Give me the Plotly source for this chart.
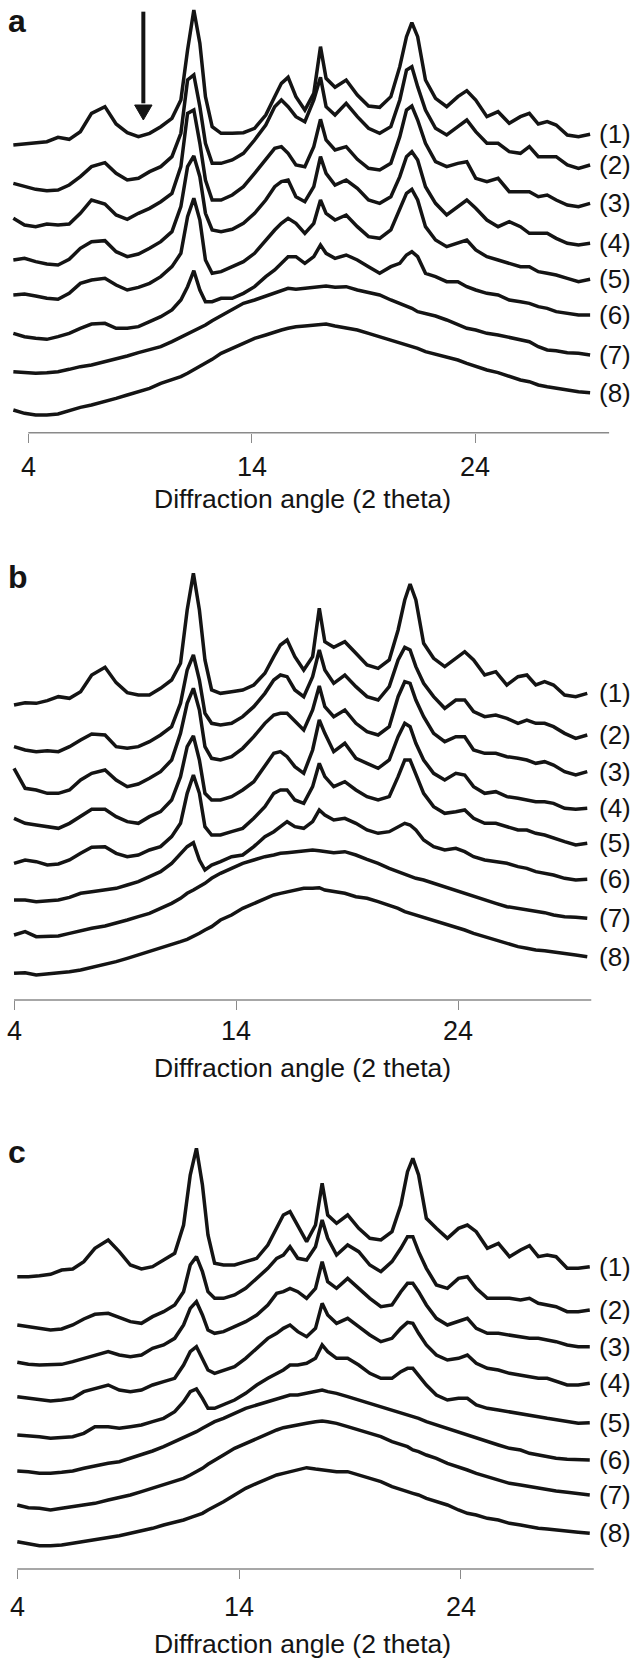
import plotly.graph_objects as go

# ---------------- data (2-theta in degrees, intensity in arbitrary stacked units) ----------------
X_A = [3.33, 3.83, 4.33, 4.83, 5.33, 5.83, 6.33, 6.83, 7.43, 7.93, 8.43, 8.93, 9.43, 9.93, 10.43, 10.83,
       11.13, 11.41, 11.68, 11.93, 12.23, 12.63, 13.13, 13.63, 14.13, 14.63, 15.03, 15.33, 15.63, 15.98,
       16.38, 16.78, 17.08, 17.33, 17.73, 18.23, 18.73, 19.23, 19.73, 20.23, 20.63, 20.93, 21.17, 21.43,
       21.78, 22.23, 22.73, 23.23, 23.63, 24.03, 24.53, 25.03, 25.53, 26.03, 26.43, 26.83, 27.23, 27.63,
       28.13, 28.63, 29.15]
X_BC = [4.0, 4.5, 5.0, 5.5, 6.0, 6.5, 7.0, 7.5, 8.1, 8.6, 9.1, 9.6, 10.1, 10.6, 11.1, 11.5, 11.8, 12.08,
        12.35, 12.6, 12.9, 13.3, 13.8, 14.3, 14.8, 15.3, 15.7, 16.0, 16.3, 16.65, 17.05, 17.45, 17.75, 18.0,
        18.4, 18.9, 19.4, 19.9, 20.4, 20.9, 21.3, 21.6, 21.84, 22.1, 22.45, 22.9, 23.4, 23.9, 24.3, 24.7,
        25.2, 25.7, 26.2, 26.7, 27.1, 27.5, 27.9, 28.3, 28.8, 29.3, 29.82]

A1 = [865, 868, 872, 875, 888, 882, 905, 960, 980, 928, 902, 890, 900, 920, 945, 1000, 1150, 1270, 1170, 1010,
      920, 900, 900, 902, 915, 955, 1010, 1050, 1068, 1010, 970, 1020, 1160, 1065, 1038, 1060, 1015, 982, 978, 1010,
      1100, 1190, 1232, 1190, 1060, 1005, 980, 1010, 1028, 1000, 950, 965, 930, 950, 960, 928, 935, 925, 895, 890, 897]
A2 = [750, 740, 732, 728, 730, 745, 770, 800, 812, 780, 760, 765, 785, 800, 830, 900, 1060, 1075, 980, 870,
      810, 810, 820, 840, 880, 925, 980, 1000, 980, 950, 935, 1000, 1068, 980, 955, 990, 950, 915, 900, 920,
      1000, 1090, 1100, 1040, 970, 915, 895, 920, 940, 905, 870, 870, 845, 840, 860, 830, 830, 830, 805, 795, 805]
A3 = [645, 625, 620, 628, 625, 628, 660, 700, 688, 655, 642, 660, 675, 695, 720, 800, 960, 970, 870, 760,
      700, 700, 715, 740, 780, 820, 855, 860, 840, 805, 800, 860, 942, 880, 850, 860, 822, 795, 790, 810,
      890, 970, 982, 940, 870, 815, 800, 810, 815, 765, 755, 765, 725, 725, 725, 710, 715, 700, 685, 680, 690]
A4 = [520, 525, 515, 508, 505, 522, 555, 575, 578, 545, 530, 538, 555, 575, 605, 680, 800, 832, 770, 660,
      610, 605, 612, 630, 660, 700, 740, 755, 760, 710, 695, 740, 830, 780, 745, 760, 735, 700, 690, 710,
      770, 830, 845, 820, 740, 690, 655, 680, 700, 675, 640, 620, 635, 620, 600, 600, 600, 585, 570, 565, 570]
A5 = [415, 418, 412, 405, 402, 420, 450, 460, 465, 445, 430, 438, 450, 470, 500, 540, 650, 705, 640, 520,
      480, 485, 500, 515, 540, 580, 610, 630, 645, 630, 600, 630, 700, 660, 640, 655, 620, 590, 585, 610,
      670, 720, 732, 700, 620, 580, 560, 570, 580, 550, 530, 520, 510, 500, 500, 485, 480, 475, 465, 455, 462]
A6 = [300, 290, 285, 282, 290, 300, 315, 328, 330, 315, 315, 320, 335, 350, 370, 400, 440, 488, 430, 395,
      395, 405, 405, 420, 440, 470, 490, 510, 530, 530, 510, 530, 565, 540, 525, 535, 520, 500, 480, 500,
      510, 535, 545, 530, 480, 470, 455, 455, 440, 430, 420, 415, 400, 395, 390, 380, 375, 365, 360, 355, 355]
A7 = [185, 182, 180, 182, 185, 192, 200, 205, 215, 222, 232, 242, 250, 260, 275, 288, 298, 308, 315, 325,
      338, 352, 370, 390, 400, 412, 422, 430, 435, 432, 435, 438, 440, 442, 438, 440, 430, 422, 415, 400,
      390, 380, 375, 365, 360, 352, 340, 325, 315, 310, 300, 295, 288, 280, 275, 260, 250, 248, 242, 240, 235]
A8 = [70, 60, 55, 55, 58, 68, 78, 85, 95, 105, 115, 125, 135, 150, 160, 170, 180, 190, 200, 210,
      222, 240, 255, 270, 285, 295, 305, 310, 315, 320, 322, 325, 325, 328, 322, 315, 310, 300, 290, 280,
      270, 265, 260, 255, 245, 238, 230, 220, 210, 200, 190, 182, 170, 160, 155, 145, 140, 135, 130, 125, 122]

B1 = [865, 872, 870, 878, 890, 885, 905, 955, 978, 932, 902, 895, 895, 915, 940, 990, 1150, 1260, 1150, 1000,
      910, 900, 905, 910, 925, 960, 1010, 1045, 1060, 1010, 970, 1010, 1155, 1055, 1038, 1055, 1020, 985, 975, 1000,
      1090, 1180, 1228, 1180, 1050, 1005, 980, 1005, 1025, 1000, 955, 965, 925, 950, 955, 925, 935, 925, 895, 890, 900]
B2 = [740, 730, 725, 728, 725, 740, 760, 778, 775, 740, 735, 740, 755, 775, 800, 870, 970, 1015, 940, 840,
      810, 805, 810, 830, 860, 900, 940, 955, 950, 910, 890, 950, 1030, 970, 930, 955, 920, 890, 880, 920,
      1000, 1038, 1030, 980, 930, 890, 855, 880, 880, 845, 830, 835, 825, 810, 820, 810, 810, 800, 780, 765, 775]
B3 = [675, 615, 610, 600, 600, 610, 640, 660, 670, 640, 620, 628, 645, 665, 700, 780, 870, 915, 850, 740,
      705, 700, 710, 735, 770, 810, 835, 840, 840, 815, 790, 850, 922, 860, 830, 850, 810, 785, 775, 800,
      890, 935, 930, 880, 830, 780, 755, 770, 770, 730, 720, 720, 710, 705, 700, 690, 695, 685, 665, 655, 665]
B4 = [525, 510, 505, 500, 495, 510, 530, 552, 552, 530, 515, 510, 530, 545, 580, 650, 740, 772, 700, 600,
      580, 580, 590, 610, 635, 680, 720, 725, 710, 680, 660, 730, 820, 780, 725, 750, 705, 690, 675, 700,
      770, 810, 800, 750, 700, 660, 640, 660, 655, 620, 600, 605, 590, 585, 580, 575, 575, 570, 555, 552, 555]
B5 = [390, 400, 395, 385, 388, 400, 420, 438, 440, 420, 410, 415, 430, 440, 470, 510, 600, 655, 600, 500,
      475, 475, 485, 495, 525, 560, 600, 610, 610, 580, 570, 620, 690, 650, 620, 635, 610, 590, 580, 590,
      650, 700, 700, 655, 600, 560, 540, 545, 550, 525, 510, 510, 500, 490, 490, 480, 475, 465, 455, 445, 450]
B6 = [280, 280, 275, 278, 280, 288, 300, 305, 310, 315, 325, 335, 350, 365, 390, 420, 440, 452, 400, 370,
      385, 395, 410, 415, 440, 470, 485, 500, 515, 500, 495, 515, 550, 535, 520, 525, 510, 490, 480, 485,
      500, 510, 505, 490, 460, 440, 430, 435, 425, 410, 400, 395, 390, 380, 375, 365, 360, 355, 345, 340, 342]
B7 = [175, 185, 170, 170, 172, 180, 188, 195, 202, 210, 220, 230, 240, 255, 270, 285, 300, 310, 320, 330,
      345, 360, 375, 390, 400, 410, 415, 420, 422, 425, 428, 430, 428, 425, 422, 425, 415, 402, 390, 375,
      365, 355, 350, 345, 340, 330, 320, 310, 300, 290, 280, 270, 260, 255, 250, 245, 242, 235, 230, 228, 225]
B8 = [60, 62, 55, 58, 60, 65, 70, 78, 85, 95, 105, 115, 125, 135, 145, 155, 162, 170, 180, 190,
      200, 220, 235, 255, 270, 285, 295, 300, 305, 310, 315, 315, 317, 310, 305, 300, 290, 285, 275, 265,
      255, 245, 240, 235, 230, 220, 210, 200, 190, 180, 170, 160, 150, 140, 135, 130, 128, 125, 120, 115, 110]

C1 = [845, 845, 848, 852, 865, 868, 890, 930, 955, 920, 880, 868, 875, 895, 915, 1000, 1150, 1230, 1120, 970,
      885, 880, 880, 890, 900, 940, 990, 1030, 1040, 1000, 950, 1000, 1125, 1030, 1005, 1030, 990, 960, 955, 980,
      1060, 1160, 1200, 1150, 1020, 990, 960, 990, 1000, 980, 930, 945, 905, 925, 938, 905, 910, 905, 870, 870, 875]
C2 = [700, 695, 688, 685, 688, 700, 718, 732, 735, 722, 710, 705, 725, 740, 760, 800, 880, 905, 860, 800,
      780, 780, 790, 810, 840, 870, 900, 910, 935, 900, 895, 935, 1015, 960, 910, 940, 920, 880, 860, 890,
      930, 965, 965, 920, 870, 820, 810, 840, 845, 810, 780, 780, 780, 775, 780, 765, 760, 755, 740, 740, 745]
C3 = [588, 582, 580, 580, 582, 590, 600, 610, 620, 610, 605, 610, 630, 640, 660, 700, 750, 770, 730, 685,
      675, 680, 695, 710, 730, 760, 795, 800, 810, 800, 780, 810, 890, 830, 810, 840, 810, 780, 755, 760,
      800, 825, 825, 800, 760, 720, 700, 710, 720, 690, 675, 675, 670, 665, 660, 660, 655, 650, 640, 635, 635]
C4 = [485, 480, 475, 472, 475, 480, 500, 510, 520, 505, 500, 505, 520, 530, 540, 580, 620, 635, 600, 565,
      555, 565, 575, 600, 630, 660, 675, 690, 700, 680, 665, 690, 765, 730, 705, 720, 695, 670, 650, 660,
      690, 708, 705, 675, 640, 610, 595, 600, 610, 585, 570, 565, 555, 550, 545, 540, 540, 532, 520, 520, 525]
C5 = [370, 368, 365, 360, 362, 365, 375, 395, 395, 390, 395, 400, 410, 420, 440, 470, 500, 508, 480, 450,
      450, 460, 475, 495, 520, 540, 555, 565, 580, 580, 585, 600, 640, 620, 600, 600, 580, 555, 540, 540,
      560, 570, 570, 550, 520, 490, 475, 480, 480, 460, 450, 445, 440, 435, 430, 425, 420, 415, 410, 405, 407]
C6 = [262, 260, 255, 255, 258, 262, 270, 278, 285, 290, 300, 310, 322, 335, 350, 360, 370, 380, 390, 400,
      410, 420, 435, 450, 460, 470, 480, 485, 490, 490, 495, 500, 505, 500, 495, 485, 475, 465, 455, 445,
      435, 430, 425, 420, 410, 400, 390, 380, 370, 360, 350, 340, 330, 325, 315, 310, 305, 300, 297, 295, 295]
C7 = [160, 152, 150, 145, 150, 155, 160, 165, 175, 182, 190, 200, 210, 220, 230, 240, 250, 260, 270, 282,
      295, 310, 330, 345, 360, 375, 385, 392, 395, 400, 405, 410, 412, 410, 405, 395, 385, 375, 365, 350,
      340, 335, 325, 320, 310, 300, 285, 275, 265, 255, 245, 235, 225, 220, 215, 210, 205, 202, 198, 195, 190]
C8 = [50, 45, 38, 38, 40, 45, 50, 55, 62, 68, 75, 82, 90, 100, 108, 115, 122, 128, 135, 145,
      155, 170, 190, 210, 225, 240, 250, 255, 260, 265, 272, 268, 265, 265, 260, 260, 250, 240, 230, 215,
      205, 200, 195, 190, 180, 170, 160, 145, 135, 130, 120, 115, 105, 100, 95, 90, 88, 85, 80, 78, 75]

CURVE_LABELS = ["(1)", "(2)", "(3)", "(4)", "(5)", "(6)", "(7)", "(8)"]
TICK_VALUES = [4, 14, 24]
X_TITLE = "Diffraction angle (2 theta)"
PANEL_LETTERS = ["a", "b", "c"]
ARROW_AT = 9.15          # 2-theta marked by the arrow in panel a

# ---------------- layout (pixels of the 633 x 1663 page) ----------------
W, H = 633, 1663
FONT = "Liberation Sans, Arial, Helvetica, sans-serif"
INK = "#141414"
AXIS_GREY = "#8a8a8a"

panels = [
    dict(x=X_A, ys=[A1, A2, A3, A4, A5, A6, A7, A8], top=0, axis=432.7, xr=(2.733, 31.07),
         ylo=1.9, tick_y=467, title_y=499, letter_y=21),
    dict(x=X_BC, ys=[B1, B2, B3, B4, B5, B6, B7, B8], top=560, axis=1000.0, xr=(3.369, 31.88),
         ylo=-20, tick_y=1031, title_y=1068, letter_y=577),
    dict(x=X_BC, ys=[C1, C2, C3, C4, C5, C6, C7, C8], top=1125, axis=1569.0, xr=(3.220, 31.77),
         ylo=-32, tick_y=1607, title_y=1644, letter_y=1152),
]
YTOP = 1300

fig = go.Figure()
annotations = []
shapes = []
layout_axes = {}

for i, p in enumerate(panels):
    n = i + 1
    xa = "x" if n == 1 else f"x{n}"
    ya = "y" if n == 1 else f"y{n}"
    for k, ys in enumerate(p["ys"]):
        assert len(ys) == len(p["x"]), (n, k, len(ys))
        fig.add_trace(go.Scatter(x=p["x"], y=ys, xaxis=xa, yaxis=ya, mode="lines",
                                 line=dict(color=INK, width=3.5), showlegend=False,
                                 hoverinfo="skip"))
        annotations.append(dict(x=597 / W, xref="paper", xanchor="left",
                                y=ys[-1], yref=ya, yanchor="middle",
                                text=CURVE_LABELS[k], showarrow=False,
                                font=dict(size=26, color=INK, family=FONT)))
    dom = [1 - p["axis"] / H, 1 - p["top"] / H]
    layout_axes[("xaxis" if n == 1 else f"xaxis{n}")] = dict(
        domain=[0, 1], range=list(p["xr"]), anchor=ya, showgrid=False, zeroline=False,
        showline=False, ticks="outside", ticklen=9, tickwidth=1.4, tickcolor=AXIS_GREY,
        tickvals=TICK_VALUES, showticklabels=False, fixedrange=True)
    layout_axes[("yaxis" if n == 1 else f"yaxis{n}")] = dict(
        domain=dom, range=[p["ylo"], YTOP], anchor=xa, visible=False, fixedrange=True)
    # axis baseline from 4 to 30 degrees
    shapes.append(dict(type="line", xref=xa, yref=f"{ya} domain", x0=4, x1=30, y0=0, y1=0,
                       line=dict(color=AXIS_GREY, width=1.6)))
    for t in TICK_VALUES:
        annotations.append(dict(x=t, xref=xa, y=1 - p["tick_y"] / H, yref="paper",
                                xanchor="center", yanchor="middle", text=str(t),
                                showarrow=False, font=dict(size=27, color=INK, family=FONT)))
    annotations.append(dict(x=302 / W, xref="paper", y=1 - p["title_y"] / H, yref="paper",
                            xanchor="center", yanchor="middle", text=X_TITLE, showarrow=False,
                            font=dict(size=26.5, color=INK, family=FONT)))
    annotations.append(dict(x=6 / W, xref="paper", y=1 - p["letter_y"] / H, yref="paper",
                            xanchor="left", yanchor="middle", text=f"<b>{PANEL_LETTERS[i]}</b>",
                            showarrow=False, font=dict(size=32, color=INK, family=FONT)))

# arrow in panel a (shaft + filled head)
ARROW_TAIL, ARROW_BASE, ARROW_TIP, HALF_W = 1265, 985, 940, 0.39
shapes.append(dict(type="line", xref="x", yref="y", x0=ARROW_AT, x1=ARROW_AT,
                   y0=ARROW_TAIL, y1=ARROW_BASE + 5, line=dict(color=INK, width=4)))
shapes.append(dict(type="path", xref="x", yref="y",
                   path=f"M {ARROW_AT - HALF_W},{ARROW_BASE} L {ARROW_AT + HALF_W},{ARROW_BASE} "
                        f"L {ARROW_AT},{ARROW_TIP} Z",
                   fillcolor=INK, line=dict(color=INK, width=1)))

fig.update_layout(width=W, height=H, autosize=False,
                  margin=dict(l=0, r=0, t=0, b=0, pad=0),
                  paper_bgcolor="white", plot_bgcolor="white",
                  annotations=annotations, shapes=shapes, showlegend=False,
                  font=dict(family=FONT, color=INK), **layout_axes)

fig.write_html("out.html", config={"displayModeBar": False})
